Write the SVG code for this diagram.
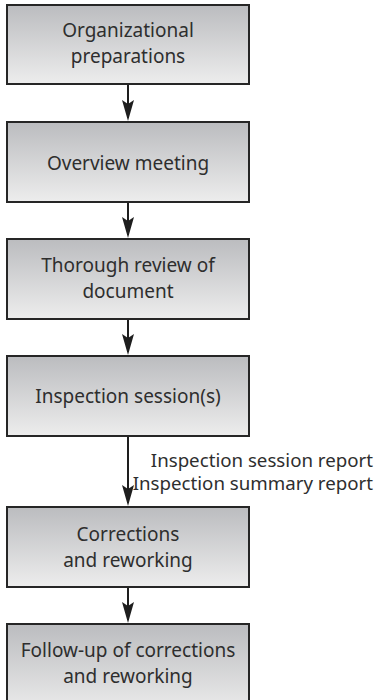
<svg xmlns="http://www.w3.org/2000/svg" width="383" height="700" viewBox="0 0 383 700">
<defs>
<linearGradient id="g" x1="0" y1="0" x2="0" y2="1">
<stop offset="0" stop-color="#bbbcbf"/>
<stop offset="1" stop-color="#ededed"/>
</linearGradient>
<style>
.box{fill:url(#g);stroke:#262626;stroke-width:2}
.t{font-family:"Noto Sans","DejaVu Sans",sans-serif;font-size:19px;fill:#2e2e2e;text-anchor:middle}
.l{font-family:"Noto Sans","DejaVu Sans",sans-serif;font-size:18.7px;fill:#2e2e2e;text-anchor:end}
.c{stroke:#1e1e1e;stroke-width:2;fill:none}
.h{fill:#1e1e1e}
</style>
</defs>
<rect width="383" height="700" fill="#ffffff"/>
<g id="connectors">
<line class="c" x1="128" y1="85" x2="128" y2="118"/>
<path class="h" d="M122,100 L128,104 L134,100 L128,121 Z"/>
<line class="c" x1="128" y1="203" x2="128" y2="235"/>
<path class="h" d="M122,217 L128,221 L134,217 L128,238 Z"/>
<line class="c" x1="128" y1="320" x2="128" y2="352"/>
<path class="h" d="M122,334 L128,338 L134,334 L128,355 Z"/>
<line class="c" x1="128" y1="437" x2="128" y2="503"/>
<path class="h" d="M122,485 L128,489 L134,485 L128,506 Z"/>
<text class="l" x="373" y="467">Inspection session report</text>
<text class="l" x="373" y="490">Inspection summary report</text>
<line class="c" x1="128" y1="588" x2="128" y2="620"/>
<path class="h" d="M122,602 L128,606 L134,602 L128,623 Z"/>
</g>
<g id="n1">
<rect class="box" x="7" y="5" width="242" height="79"/>
<text class="t" x="128" y="37">Organizational</text>
<text class="t" x="128" y="63">preparations</text>
</g>
<g id="n2">
<rect class="box" x="7" y="122" width="242" height="80"/>
<text class="t" x="128" y="170">Overview meeting</text>
</g>
<g id="n3">
<rect class="box" x="7" y="239" width="242" height="80"/>
<text class="t" x="128" y="272">Thorough review of</text>
<text class="t" x="128" y="298">document</text>
</g>
<g id="n4">
<rect class="box" x="7" y="356" width="242" height="80"/>
<text class="t" x="128" y="403">Inspection session(s)</text>
</g>
<g id="n5">
<rect class="box" x="7" y="507" width="242" height="80"/>
<text class="t" x="128" y="541">Corrections</text>
<text class="t" x="128" y="567">and reworking</text>
</g>
<g id="n6">
<rect class="box" x="7" y="624" width="242" height="90"/>
<text class="t" x="128" y="657">Follow-up of corrections</text>
<text class="t" x="128" y="683">and reworking</text>
</g>
</svg>
